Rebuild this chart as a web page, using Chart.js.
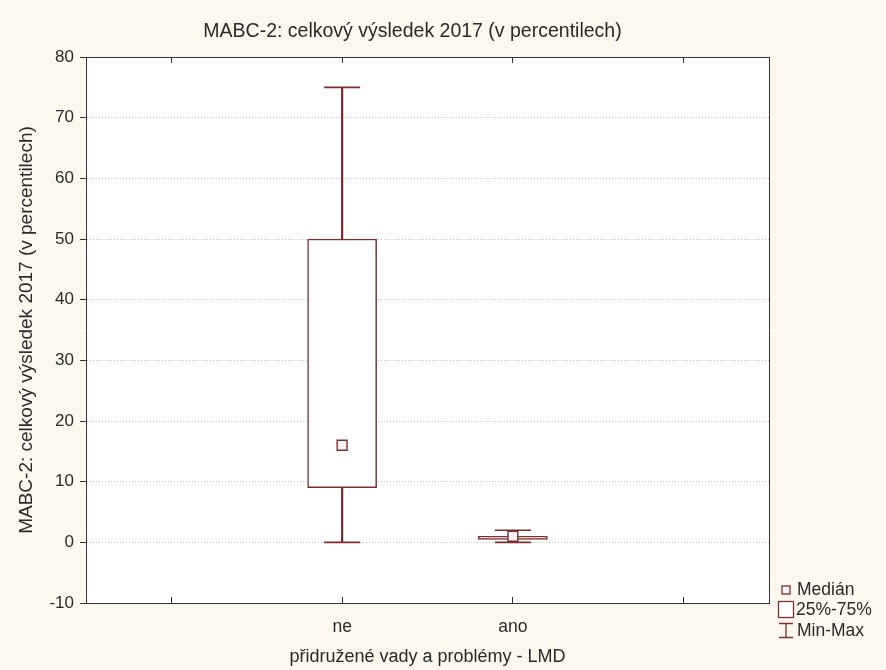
<!DOCTYPE html>
<html>
<head>
<meta charset="utf-8">
<script src="https://cdn.jsdelivr.net/npm/chart.js@4/dist/chart.umd.min.js"></script>
<style>
  html, body { margin: 0; padding: 0; background: #fcf8ee; }
  #wrap { width: 886px; height: 670px; }
</style>
</head>
<body>
<div id="wrap"><canvas id="c" width="886" height="670"></canvas></div>
<script>
// ---- data ----
const categories   = ['', 'ne', 'ano', ''];
const minValues    = [null, 0,  0,   null];
const q1Values     = [null, 9,  0.5, null];
const medianValues = [null, 16, 1,   null];
const q3Values     = [null, 50, 1,   null];
const maxValues    = [null, 75, 2,   null];
const yAxisMin = -10, yAxisMax = 80, yAxisStep = 10;
const chartTitle = 'MABC-2: celkový výsledek 2017 (v percentilech)';
const yTitle = 'MABC-2: celkový výsledek 2017 (v percentilech)';
const xTitle = 'přidružené vady a problémy - LMD';
const legendLabels = ['Medián', '25%-75%', 'Min-Max'];

// ---- styling ----
const FONT = '"Liberation Sans", Arial, sans-serif';
const BOX = '#7d2f2f';
const TEXT = '#2a2a2a';
const FRAME = '#333333';

const boxData = categories.map((c, i) => q1Values[i] == null ? null : [q1Values[i], q3Values[i]]);
const lowStem = categories.map((c, i) => minValues[i] == null ? null : [minValues[i], q1Values[i]]);
const highStem = categories.map((c, i) => maxValues[i] == null ? null : [q3Values[i], maxValues[i]]);

const bgPlugin = {
  id: 'bg',
  beforeDraw(chart) {
    const {ctx, chartArea: a} = chart;
    ctx.save();
    ctx.fillStyle = '#fcf8ee';
    ctx.fillRect(0, 0, chart.width, chart.height);
    ctx.fillStyle = '#ffffff';
    ctx.fillRect(a.left, a.top, a.right - a.left, a.bottom - a.top);
    ctx.restore();
  }
};

const titleLegendPlugin = {
  id: 'titleLegend',
  afterDraw(chart) {
    const ctx = chart.ctx;
    ctx.save();
    ctx.fillStyle = TEXT;
    ctx.font = '19.5px ' + FONT;
    ctx.textAlign = 'center';
    ctx.textBaseline = 'middle';
    ctx.fillText(chartTitle, 412.5, 32);

    // legend
    ctx.font = '17.5px ' + FONT;
    ctx.textAlign = 'left';
    ctx.strokeStyle = BOX;
    ctx.lineWidth = 1.3;
    // median icon
    ctx.fillStyle = '#fbf3f5';
    ctx.fillRect(782, 586, 8, 8);
    ctx.strokeRect(782, 586, 8, 8);
    // box icon
    ctx.fillStyle = '#ffffff';
    ctx.fillRect(778.5, 601.5, 15, 16);
    ctx.strokeRect(778.5, 601.5, 15, 16);
    // min-max icon
    ctx.beginPath();
    ctx.moveTo(779, 623.5); ctx.lineTo(793, 623.5);
    ctx.moveTo(786, 623.5); ctx.lineTo(786, 637.5);
    ctx.moveTo(779, 637.5); ctx.lineTo(793, 637.5);
    ctx.stroke();
    ctx.fillStyle = TEXT;
    ctx.fillText(legendLabels[0], 797, 590);
    ctx.fillText(legendLabels[1], 796, 610);
    ctx.fillText(legendLabels[2], 797, 631);
    ctx.restore();
  }
};

new Chart(document.getElementById('c'), {
  type: 'bar',
  data: {
    labels: categories,
    datasets: [
      {
        type: 'line', label: 'median', data: medianValues, order: 0,
        showLine: false, pointStyle: 'rect', pointRadius: 7,
        pointBackgroundColor: '#fbf3f5', pointBorderColor: BOX, pointBorderWidth: 1.4,
        xAxisID: 'x', yAxisID: 'y'
      },
      {
        type: 'line', label: 'max', data: maxValues, order: 1,
        showLine: false, pointStyle: 'line', pointRadius: 18,
        pointBorderColor: BOX, pointBorderWidth: 1.6,
        xAxisID: 'x', yAxisID: 'y'
      },
      {
        type: 'line', label: 'min', data: minValues, order: 1,
        showLine: false, pointStyle: 'line', pointRadius: 18,
        pointBorderColor: BOX, pointBorderWidth: 1.6,
        xAxisID: 'x', yAxisID: 'y'
      },
      {
        label: 'box', data: boxData, order: 2, grouped: false,
        barThickness: 69, backgroundColor: '#ffffff', borderColor: BOX,
        borderWidth: 1.5, borderSkipped: false,
        xAxisID: 'x', yAxisID: 'y'
      },
      {
        label: 'low', data: lowStem, order: 3, grouped: false,
        barThickness: 1.6, backgroundColor: BOX, borderWidth: 0,
        xAxisID: 'x', yAxisID: 'y'
      },
      {
        label: 'high', data: highStem, order: 3, grouped: false,
        barThickness: 1.6, backgroundColor: BOX, borderWidth: 0,
        xAxisID: 'x', yAxisID: 'y'
      }
    ]
  },
  options: {
    responsive: false,
    animation: false,
    events: [],
    layout: { padding: { left: 0, right: 117, top: 57, bottom: 0 } },
    plugins: { legend: { display: false }, tooltip: { enabled: false }, title: { display: false } },
    scales: {
      x: {
        type: 'category', position: 'bottom', offset: true,
        grid: { offset: false, drawOnChartArea: false, drawTicks: true, tickLength: -6, tickColor: FRAME, tickWidth: 1 },
        border: { display: true, color: FRAME, width: 1 },
        ticks: { color: TEXT, font: { family: FONT, size: 17.5 }, padding: 20, maxRotation: 0, autoSkip: false },
        title: { display: true, text: xTitle, color: TEXT, font: { family: FONT, size: 18 }, padding: { top: 0, bottom: 2 } },
        afterFit(s) { s.height = 67; }
      },
      x2: {
        type: 'category', position: 'top', offset: true,
        grid: { offset: false, drawOnChartArea: false, drawTicks: true, tickLength: -6, tickColor: FRAME, tickWidth: 1 },
        border: { display: true, color: FRAME, width: 1 },
        ticks: { display: false },
        afterFit(s) { s.height = 0; }
      },
      y: {
        type: 'linear', position: 'left', min: yAxisMin, max: yAxisMax,
        ticks: { stepSize: yAxisStep, color: TEXT, font: { family: FONT, size: 17 }, padding: 6 },
        grid: { color: '#bdbdbd', lineWidth: 1, drawTicks: true, tickLength: 6, tickColor: FRAME, tickWidth: 1 },
        border: { display: true, color: FRAME, width: 1, dash: [1, 2] },
        title: { display: true, text: yTitle, color: TEXT, font: { family: FONT, size: 19 }, padding: { top: 15, bottom: 0 } },
        afterFit(s) { s.width = 86; }
      },
      y2: {
        type: 'linear', position: 'right', min: yAxisMin, max: yAxisMax,
        ticks: { display: false },
        grid: { drawOnChartArea: false, drawTicks: false },
        border: { display: true, color: FRAME, width: 1 },
        afterFit(s) { s.width = 0; }
      }
    }
  },
  plugins: [bgPlugin, titleLegendPlugin]
});
</script>
</body>
</html>
